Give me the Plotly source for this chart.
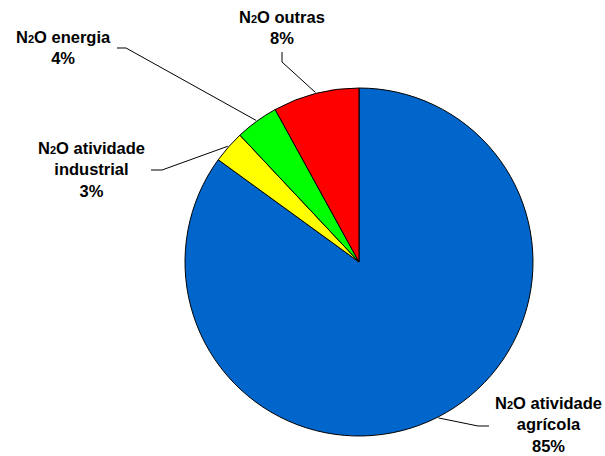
import math
import plotly.graph_objects as go

# N2O emissions by source (share, %)
SUB2 = "<span style='font-size:11px'>2</span>"
categories = [f"N{SUB2}O atividade<br>agrícola",
              f"N{SUB2}O atividade<br>industrial",
              f"N{SUB2}O energia",
              f"N{SUB2}O outras"]
values = [85, 3, 4, 8]
pct_labels = ["85%", "3%", "4%", "8%"]
colors = ["#0066CC", "#FFFF00", "#00FF00", "#FF0000"]

W, H = 605, 456
CX, CY, R = 359, 262, 174  # pie centre and radius in pixels


def px(x, y):
    """pixel -> paper coordinates"""
    return x / W, 1 - y / H


fig = go.Figure(go.Pie(
    values=values,
    labels=categories,
    sort=False,
    direction="clockwise",
    rotation=0,
    textinfo="none",
    hoverinfo="skip",
    showlegend=False,
    marker=dict(colors=colors, line=dict(color="black", width=1)),
    domain=dict(x=[(CX - R) / W, (CX + R) / W],
                y=[1 - (CY + R) / H, 1 - (CY - R) / H]),
))

# label placement (label centre) and leader-line elbow / end, in pixels
label_pos = [(548, 424), (91, 170), (63, 47), (282, 27)]
elbows = [[(478, 426), (489, 426)],
          [(162, 170), (151, 170)],
          [(126, 48), (117, 48)],
          [(282, 62), (282, 52)]]

total = sum(values)
cum = 0
shapes = []
annotations = []
for i, v in enumerate(values):
    mid = (cum + v / 2) / total * 2 * math.pi
    cum += v
    ex = CX + (R + 1) * math.sin(mid)
    ey = CY - (R + 1) * math.cos(mid)
    pts = [(ex, ey)] + elbows[i]
    path = ""
    for j, (x, y) in enumerate(pts):
        pxx, pyy = px(x, y)
        path += ("M" if j == 0 else "L") + f"{pxx:.5f},{pyy:.5f} "
    shapes.append(dict(type="path", path=path.strip(), xref="paper", yref="paper",
                       line=dict(color="black", width=1)))
    lx, ly = px(*label_pos[i])
    annotations.append(dict(
        x=lx, y=ly, xref="paper", yref="paper", xanchor="center", yanchor="middle",
        text=f"<b>{categories[i]}<br>{pct_labels[i]}</b>", showarrow=False, align="center",
        font=dict(family="Liberation Sans, Arial, sans-serif", size=16.5, color="black"),
    ))

fig.update_layout(
    width=W, height=H,
    margin=dict(l=0, r=0, t=0, b=0),
    paper_bgcolor="white", plot_bgcolor="white",
    shapes=shapes, annotations=annotations,
)

fig.write_html("out.html")
